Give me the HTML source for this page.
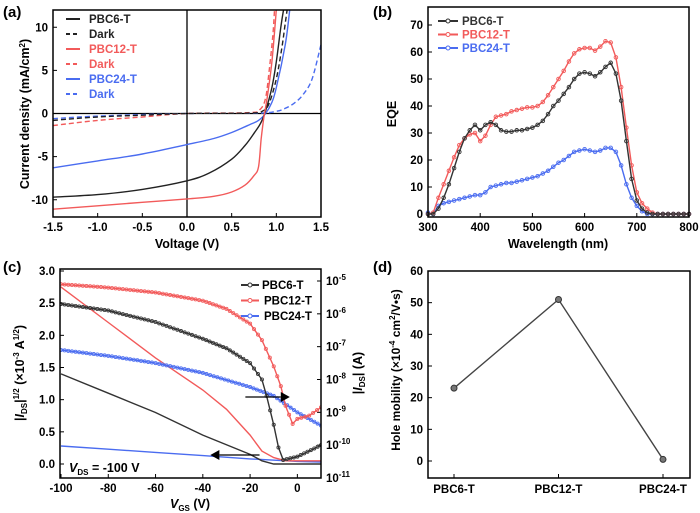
<!DOCTYPE html>
<html><head><meta charset="utf-8">
<style>
html,body{margin:0;padding:0;background:#fff;}
svg{display:block;font-family:"Liberation Sans",Arial,sans-serif;font-weight:bold;}
</style></head>
<body>
<svg id="fig" width="700" height="513" viewBox="0 0 700 513"></svg>
<script>
// ---------- Panel (a) data ----------
const aV6 = [-1.5,-1.0,-0.5,0,0.25,0.5,0.65,0.75,0.82,0.87,0.95,1.0,1.05,1.08];
const aJ6 = [-9.7,-9.4,-8.8,-7.8,-6.9,-5.3,-3.7,-2.3,-1.2,0,3,6,10,12];
const aV12 = [-1.5,-1.0,-0.5,0,0.3,0.5,0.65,0.75,0.8,0.83,0.86,0.9,0.95,1.0];
const aJ12 = [-11.1,-10.7,-10.3,-9.9,-9.6,-9.1,-8.3,-7.2,-6.2,-3,-0.5,2,6,12];
const aV24 = [-1.5,-1.0,-0.5,0,0.3,0.5,0.7,0.8,0.88,0.95,1.0,1.1,1.15];
const aJ24 = [-6.3,-5.5,-4.7,-3.6,-2.9,-2.2,-1.3,-0.8,0,1.3,3,8,12];
const aVd6 = [-1.5,-1.0,-0.5,0,0.7,0.85,0.92,1.0,1.06,1.1,1.12];
const aJd6 = [-0.8,-0.4,-0.2,0,0.05,0.3,1.2,4,7.5,10.5,12];
const aVd12 = [-1.5,-1.0,-0.5,0,0.7,0.82,0.88,0.92,0.96,0.98];
const aJd12 = [-1.4,-0.8,-0.4,0,0.1,0.5,1.8,5,9,12];
const aVd24 = [-1.5,-1.0,0,0.8,1.0,1.1,1.2,1.3,1.4,1.5];
const aJd24 = [-0.6,-0.3,0,0.05,0.25,0.6,1.2,2.2,4,8];
const aXTicks = [-1.5,-1.0,-0.5,0.0,0.5,1.0,1.5];
const aYTicks = [-10,-5,0,5,10];
// ---------- Panel (b) data ----------
const bWl = [300,310,320,330,340,350,360,370,380,390,400,410,420,430,440,450,460,470,480,490,500,510,520,530,540,550,560,570,580,590,600,610,620,630,640,650,660,670,680,690,700,710,720,730,740,750,760,770,780,790,800];
const bE6 = [0,0,2,6,11,17,23,28,31,33,31,33,34,33,31,30.5,30.5,31,31,31.5,32,33,34.5,37,40,42,44.5,47,50,52,52.5,52,51,52.5,54.5,56,52,42,27,13,5,2,0.5,0,0,0,0,0,0,0,0];
const bE12 = [0,0.5,6,11,16,21,25.5,28,29.5,30,27,29,33,36,36.5,37,38,38.5,39,39.5,39.5,40,41.5,44,47,50,53,56.5,59.5,61,61.5,61.5,60.5,62,64,63.5,58,47,32,18,8,4,2,0.5,0,0,0,0,0,0,0];
const bE24 = [0.5,0,3,4,4.5,5,5.5,6,6.5,7,7,8,10,10.5,11,11.5,11.5,12,12.5,13,13.5,14,15,16,17.5,19,20,21.5,23,23.5,24,23.5,23,23.5,24.5,24.5,23,18,11,6,3,1,0,0,0,0,0,0,0,0,0];
const bXTicks = [300,400,500,600,700,800];
const bYTicks = [0,10,20,30,40,50,60,70];
// ---------- Panel (c) data ----------
const cVsq6 = [-100,-80,-60,-40,-20,-15,-10,10];
const cSq6 = [1.4,1.1,0.8,0.45,0.15,0.05,0.0,0.0];
const cVsq12 = [-100,-80,-60,-40,-30,-20,-15,-10,-5,10];
const cSq12 = [2.75,2.2,1.65,1.15,0.85,0.45,0.2,0.1,0.05,0.05];
const cVsq24 = [-100,-80,-60,-40,-20,0,10];
const cSq24 = [0.28,0.23,0.18,0.13,0.08,0.04,0.03];
const cVlog6 = [-100,-80,-60,-40,-30,-20,-15,-13,-10,-8,-6,0,10];
const cLog6 = [-5.7,-5.9,-6.25,-6.76,-7.05,-7.5,-8.0,-8.5,-9.38,-10.07,-10.45,-10.35,-10.0];
const cVlog12 = [-100,-80,-60,-40,-30,-20,-15,-10,-7,-5,-2,0,5,10];
const cLog12 = [-5.1,-5.2,-5.35,-5.6,-5.85,-6.3,-6.8,-7.6,-8.2,-8.8,-9.35,-9.2,-9.1,-8.85];
const cVlog24 = [-100,-80,-60,-40,-20,-10,0,10];
const cLog24 = [-7.1,-7.28,-7.5,-7.8,-8.23,-8.5,-9.0,-9.4];
const cXTicks = [-100,-80,-60,-40,-20,0];
const cYTicks = [0.0,0.5,1.0,1.5,2.0,2.5,3.0];
const cRTicks = [-5,-6,-7,-8,-9,-10,-11];
// ---------- Panel (d) data ----------
const dCats = ["PBC6-T","PBC12-T","PBC24-T"];
const dVals = [23,51,0.5];
const dYTicks = [0,10,20,30,40,50,60];

const NS = "http://www.w3.org/2000/svg";
const svg = document.getElementById("fig");
function mk(tag, attrs, parent, text){
  const e = document.createElementNS(NS, tag);
  for (const k in attrs) e.setAttribute(k, attrs[k]);
  if (text !== undefined) e.textContent = text;
  (parent||svg).appendChild(e);
  return e;
}
function lin(d0,d1,r0,r1){return v => r0 + (v-d0)/(d1-d0)*(r1-r0);}
function pathD(xs, ys, fx, fy){
  return xs.map((x,i)=>(i?"L":"M")+fx(x).toFixed(1)+","+fy(ys[i]).toFixed(1)).join(" ");
}
function smoothD(xs, ys, fx, fy){
  const P = xs.map((x,i)=>[fx(x),fy(ys[i])]);
  let d = "M"+P[0][0].toFixed(1)+","+P[0][1].toFixed(1);
  for (let i=0;i<P.length-1;i++){
    const p0=P[Math.max(0,i-1)],p1=P[i],p2=P[i+1],p3=P[Math.min(P.length-1,i+2)];
    const c1=[p1[0]+(p2[0]-p0[0])/6,p1[1]+(p2[1]-p0[1])/6];
    const c2=[p2[0]-(p3[0]-p1[0])/6,p2[1]-(p3[1]-p1[1])/6];
    d+=" C"+c1[0].toFixed(1)+","+c1[1].toFixed(1)+" "+c2[0].toFixed(1)+","+c2[1].toFixed(1)+" "+p2[0].toFixed(1)+","+p2[1].toFixed(1);
  }
  return d;
}
function fmt(v,d){return v<0?"-"+Math.abs(v).toFixed(d):v.toFixed(d);}

function frame(g, x0,y0,x1,y1){
  const r = mk("rect",{x:x0,y:y0,width:x1-x0,height:y1-y0,fill:"none",stroke:"#000","stroke-width":1.5},g);
  
  
}
function series(g, xs, ys, fx, fy, color, dash, name, markers, clip, smooth){
  const p = mk("path",{d:(smooth?smoothD:pathD)(xs,ys,fx,fy),fill:"none",stroke:color,"stroke-width":1.4},g);
  if (dash) p.setAttribute("stroke-dasharray",dash);
  if (clip) p.setAttribute("clip-path",clip);
  
  
  if (markers){
    xs.forEach((x,i)=>{
      const c = mk("circle",{cx:fx(x),cy:fy(ys[i]),r:1.8,fill:"none",stroke:color,"stroke-width":0.9},g);
      
      
    });
  }
}
function txt(g, x, y, s, size, anchor, color, name){
  const t = mk("text",{x:x,y:y,"font-size":size,"text-anchor":anchor||"middle",fill:color||"#000"},g,s);
  
  
  return t;
}
const defs = mk("defs",{});
[["clipA",53,10,268,207],["clipB",428,7,261,210],["clipC",60,269,261,209]].forEach(c=>{
  const cp = mk("clipPath",{id:c[0]},defs);
  mk("rect",{x:c[1],y:c[2],width:c[3],height:c[4]},cp);
});

// ===== Panel (a) =====
(function(){
  const g = mk("g",{});
  
  
  const x0=53,x1=321,y0=10,y1=217;
  const fx = lin(-1.5,1.5,x0,x1), fy = lin(12,-12,y0,y1);
  const zl = mk("line",{x1:x0,x2:x1,y1:fy(0),y2:fy(0),stroke:"#000","stroke-width":1.3},g);
  
  
  const zv = mk("line",{x1:fx(0),x2:fx(0),y1:y0,y2:y1,stroke:"#000","stroke-width":1.3},g);
  
  
  aXTicks.forEach(v=>{
    mk("line",{x1:fx(v),x2:fx(v),y1:y1,y2:y1-4,stroke:"#000"},g);
    txt(g,fx(v),y1+14,fmt(v,1),11.5,"middle","#000","x-tick-label");
  });
  aYTicks.forEach(v=>{
    mk("line",{x1:x0,x2:x0+4,y1:fy(v),y2:fy(v),stroke:"#000"},g);
    txt(g,x0-5,fy(v)+4,String(v),11.5,"end","#000","y-tick-label");
  });
  const cl="url(#clipA)";
  series(g,aVd24,aJd24,fx,fy,"#4a6cf0","5,3","dark-pbc24-t-line",false,cl,true);
  series(g,aVd12,aJd12,fx,fy,"#f25a5a","5,3","dark-pbc12-t-line",false,cl,true);
  series(g,aVd6,aJd6,fx,fy,"#222","5,3","dark-pbc6-t-line",false,cl,true);
  series(g,aV24,aJ24,fx,fy,"#4a6cf0",null,"pbc24-t-line",false,cl,true);
  series(g,aV6,aJ6,fx,fy,"#222",null,"pbc6-t-line",false,cl,true);
  series(g,aV12,aJ12,fx,fy,"#f25a5a",null,"pbc12-t-line",false,cl,true);
  frame(g,x0,y0,x1,y1);
  const leg=[["PBC6-T","#222",null],["Dark","#222","5,3"],["PBC12-T","#f25a5a",null],["Dark","#f25a5a","5,3"],["PBC24-T","#4a6cf0",null],["Dark","#4a6cf0","5,3"]];
  leg.forEach((l,i)=>{
    const y=19+i*15;
    const ln=mk("line",{x1:66,x2:80,y1:y,y2:y,stroke:l[1],"stroke-width":2},g);
    if(l[2]) ln.setAttribute("stroke-dasharray","4,3");
    
    
    txt(g,89,y+4,l[0],11.5,"start",l[1],"legend-entry");
  });
  txt(g,187,248,"Voltage (V)",12.5,"middle","#000","x-axis-title");
  const yt = txt(g,0,0,"",12.5,"middle","#000","y-axis-title");
  yt.setAttribute("transform","translate(29,114) rotate(-90)");
  yt.innerHTML='Current density (mA/cm<tspan dy="-4" font-size="8">2</tspan><tspan dy="4">)</tspan>';
  txt(g,3,17,"(a)",15,"start","#000","panel-label-a");
})();

// ===== Panel (b) =====
(function(){
  const g = mk("g",{});
  
  
  const x0=428,x1=689,y0=7,y1=217;
  const fx = lin(300,800,x0,x1), fy = lin(0,70,214,25);
  bXTicks.forEach(v=>{
    mk("line",{x1:fx(v),x2:fx(v),y1:y1,y2:y1-4,stroke:"#000"},g);
    txt(g,fx(v),y1+14,String(v),11.5,"middle","#000","x-tick-label");
  });
  bYTicks.forEach(v=>{
    mk("line",{x1:x0,x2:x0+4,y1:fy(v),y2:fy(v),stroke:"#000"},g);
    txt(g,x0-5,fy(v)+4,String(v),11.5,"end","#000","y-tick-label");
  });
  const cl="url(#clipB)";
  series(g,bWl,bE24,fx,fy,"#4a6cf0",null,"pbc24-t-eqe-line",true,cl);
  series(g,bWl,bE12,fx,fy,"#f25a5a",null,"pbc12-t-eqe-line",true,cl);
  series(g,bWl,bE6,fx,fy,"#333",null,"pbc6-t-eqe-line",true,cl);
  frame(g,x0,y0,x1,y1);
  const leg=[["PBC6-T","#333"],["PBC12-T","#f25a5a"],["PBC24-T","#4a6cf0"]];
  leg.forEach((l,i)=>{
    const y=21+i*13.5;
    const ln=mk("line",{x1:438,x2:458,y1:y,y2:y,stroke:l[1],"stroke-width":2},g);
    
    
    mk("circle",{cx:448,cy:y,r:2,fill:"#fff",stroke:l[1]},g);
    txt(g,462,y+4,l[0],11.5,"start",l[1],"legend-entry");
  });
  txt(g,558,248,"Wavelength (nm)",12.5,"middle","#000","x-axis-title");
  const yt = txt(g,0,0,"EQE",12.5,"middle","#000","y-axis-title");
  yt.setAttribute("transform","translate(396,114) rotate(-90)");
  txt(g,373,17,"(b)",15,"start","#000","panel-label-b");
})();

// ===== Panel (c) =====
(function(){
  const g = mk("g",{});
  
  
  const x0=60,x1=321,y0=269,y1=478;
  const fx = lin(-100,10,61,321), fy = lin(0,3,464,271), fl = lin(-11,-5,478,281);
  cXTicks.forEach(v=>{
    mk("line",{x1:fx(v),x2:fx(v),y1:y1,y2:y1-4,stroke:"#000"},g);
    txt(g,fx(v),y1+14,String(v),11.5,"middle","#000","x-tick-label");
  });
  cYTicks.forEach(v=>{
    mk("line",{x1:x0,x2:x0+4,y1:fy(v),y2:fy(v),stroke:"#000"},g);
    txt(g,x0-5,fy(v)+4,v.toFixed(1),11.5,"end","#000","y-tick-label");
  });
  cRTicks.forEach(v=>{
    mk("line",{x1:x1,x2:x1-4,y1:fl(v),y2:fl(v),stroke:"#000"},g);
    const t = txt(g,x1+5,fl(v)+4,"",11.5,"start","#000","right-y-tick-label");
    t.innerHTML='10<tspan dy="-5" font-size="8">'+v+'</tspan>';
  });
  const cl="url(#clipC)";
  series(g,cVsq24,cSq24,fx,fy,"#4a6cf0",null,"pbc24-t-sqrt-line",false,cl);
  series(g,cVsq12,cSq12,fx,fy,"#f25a5a",null,"pbc12-t-sqrt-line",false,cl);
  series(g,cVsq6,cSq6,fx,fy,"#333",null,"pbc6-t-sqrt-line",false,cl);
  function dense(xs){const o=[];for(let i=0;i<xs.length-1;i++){const n=Math.max(1,Math.round((xs[i+1]-xs[i])/1.5));for(let k=0;k<n;k++)o.push(xs[i]+(xs[i+1]-xs[i])*k/n);}o.push(xs[xs.length-1]);return o;}
  function interp(xs,ys,x){for(let i=0;i<xs.length-1;i++){if(x<=xs[i+1]){const t=(x-xs[i])/(xs[i+1]-xs[i]);return ys[i]+t*(ys[i+1]-ys[i]);}}return ys[ys.length-1];}
  [[cVlog24,cLog24,"#4a6cf0","pbc24-t-log-line"],[cVlog12,cLog12,"#f25a5a","pbc12-t-log-line"],[cVlog6,cLog6,"#333","pbc6-t-log-line"]].forEach(s=>{
    series(g,s[0],s[1],fx,fl,s[2],null,s[3],false,cl);
    dense(s[0]).forEach(x=>{
      const c=mk("circle",{cx:fx(x),cy:fl(interp(s[0],s[1],x)),r:1.6,fill:"none",stroke:s[2],"stroke-width":0.8,"clip-path":cl},g);
      
      
    });
  });
  const a1=mk("line",{x1:fx(-22),x2:fx(-7),y1:397,y2:397,stroke:"#000","stroke-width":1.2},g);
  
  
  mk("polygon",{points:`${fx(-7)},392 ${fx(-7)+9},397 ${fx(-7)},402`,fill:"#000"},g);
  const a2=mk("line",{x1:fx(-16),x2:fx(-33),y1:455,y2:455,stroke:"#000","stroke-width":1.2},g);
  
  
  mk("polygon",{points:`${fx(-33)},450 ${fx(-33)-9},455 ${fx(-33)},460`,fill:"#000"},g);
  frame(g,x0,y0,x1,y1);
  const leg=[["PBC6-T","#333"],["PBC12-T","#f25a5a"],["PBC24-T","#4a6cf0"]];
  leg.forEach((l,i)=>{
    const y=285+i*15.5;
    const ln=mk("line",{x1:241,x2:259,y1:y,y2:y,stroke:l[1],"stroke-width":2},g);
    
    
    mk("circle",{cx:250,cy:y,r:2,fill:"#fff",stroke:l[1]},g);
    txt(g,264+(i?0:-2),y+4,l[0],11.5,"start","#000","legend-entry");
  });
  const vds=txt(g,69,472,"",12.5,"start","#000","vds-annotation");
  vds.innerHTML='<tspan font-style="italic">V</tspan><tspan dy="3" font-size="8">DS</tspan><tspan dy="-3"> = -100 V</tspan>';
  const xt=txt(g,190,508,"",12.5,"middle","#000","x-axis-title");
  xt.innerHTML='<tspan font-style="italic">V</tspan><tspan dy="3" font-size="8">GS</tspan><tspan dy="-3"> (V)</tspan>';
  const yt=txt(g,0,0,"",12.5,"middle","#000","y-axis-title");
  yt.setAttribute("transform","translate(24,373) rotate(-90)");
  yt.innerHTML='|<tspan font-style="italic">I</tspan><tspan dy="3" font-size="8">DS</tspan><tspan dy="-3">|</tspan><tspan dy="-5" font-size="8">1/2</tspan><tspan dy="5"> (×10</tspan><tspan dy="-5" font-size="8">-3</tspan><tspan dy="5"> A</tspan><tspan dy="-5" font-size="8">1/2</tspan><tspan dy="5">)</tspan>';
  const yr=txt(g,0,0,"",12.5,"middle","#000","right-y-axis-title");
  yr.setAttribute("transform","translate(362,373) rotate(-90)");
  yr.innerHTML='|<tspan font-style="italic">I</tspan><tspan dy="3" font-size="8">DS</tspan><tspan dy="-3">| (A)</tspan>';
  txt(g,3,272,"(c)",15,"start","#000","panel-label-c");
})();

// ===== Panel (d) =====
(function(){
  const g = mk("g",{});
  
  
  const x0=428,x1=690,y0=271,y1=478;
  const fy = lin(0,60,461,271);
  const fx = i => 454 + i*104.5;
  dYTicks.forEach(v=>{
    mk("line",{x1:x0,x2:x0+4,y1:fy(v),y2:fy(v),stroke:"#000"},g);
    txt(g,x0-5,fy(v)+4,String(v),11.5,"end","#000","y-tick-label");
  });
  dCats.forEach((c,i)=>{
    mk("line",{x1:fx(i),x2:fx(i),y1:y1,y2:y1-4,stroke:"#000"},g);
    txt(g,fx(i),y1+15,c,11.5,"middle","#000","x-category-label");
  });
  const p=mk("path",{d:dVals.map((v,i)=>(i?"L":"M")+fx(i)+","+fy(v)).join(" "),fill:"none",stroke:"#444","stroke-width":1.4},g);
  
  
  dVals.forEach((v,i)=>{
    const c=mk("circle",{cx:fx(i),cy:fy(v),r:3,fill:"#777",stroke:"#333","stroke-width":1},g);
    
    
  });
  frame(g,x0,y0,x1,y1);
  const yt=txt(g,0,0,"",12,"middle","#000","y-axis-title");
  yt.setAttribute("transform","translate(400,370) rotate(-90)");
  yt.innerHTML='Hole mobility (×10<tspan dy="-5" font-size="8">-4</tspan><tspan dy="5"> cm</tspan><tspan dy="-5" font-size="8">2</tspan><tspan dy="5">/V•s)</tspan>';
  txt(g,373,272,"(d)",15,"start","#000","panel-label-d");
})();
</script>
</body></html>
